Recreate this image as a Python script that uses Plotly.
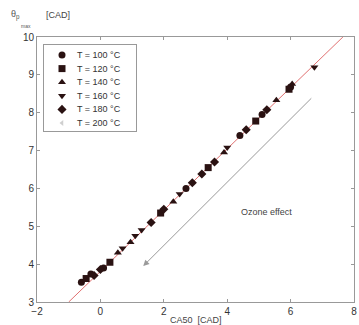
import plotly.graph_objects as go

# Data (CA50 [CAD], theta_pmax [CAD]) per inlet temperature
labels = ["T = 100 °C", "T = 120 °C", "T = 140 °C", "T = 160 °C", "T = 180 °C", "T = 200 °C"]
symbols = ["circle", "square", "triangle-up", "triangle-down", "diamond", "triangle-left"]

ca50_100 = [-0.6, -0.3, 0.1, 2.7, 4.4, 5.1, 6.0]
tmax_100 = [3.52, 3.74, 3.90, 6.00, 7.40, 7.95, 8.68]
ca50_120 = [-0.45, 0.3, 1.9, 3.4, 4.9, 5.95]
tmax_120 = [3.62, 4.05, 5.35, 6.55, 7.78, 8.62]
ca50_140 = [0.55, 0.95, 2.3, 3.9, 5.55, 6.05]
tmax_140 = [4.30, 4.58, 5.65, 6.95, 8.33, 8.76]
ca50_160 = [0.7, 1.1, 1.3, 2.5, 4.0, 6.75]
tmax_160 = [4.42, 4.75, 4.90, 5.85, 7.08, 9.20]
ca50_180 = [-0.2, 0.0, 1.6, 2.0, 2.9, 3.2, 3.6, 4.6, 5.25]
tmax_180 = [3.70, 3.86, 5.10, 5.45, 6.15, 6.38, 6.70, 7.55, 8.08]
ca50_200 = []
tmax_200 = []

xs = [ca50_100, ca50_120, ca50_140, ca50_160, ca50_180, ca50_200]
ys = [tmax_100, tmax_120, tmax_140, tmax_160, tmax_180, tmax_200]

# Fit line endpoints
fit_x = [-1.0, 7.65]
fit_y = [3.0, 10.0]

# Ozone effect arrow (tail -> head)
arrow_tail = (6.7, 8.42)
arrow_head = (1.35, 3.95)
ozone_text_pos = (5.25, 5.38)

W, H = 359, 325
L, R, T, B = 37, 5, 37, 23
pw, ph = W - L - R, H - T - B

def px(xp):
    return (xp - L) / pw

def py(yp):
    return (H - B - yp) / ph

DARK = "#2a1212"
LIGHT = "#cfcfcf"

fig = go.Figure()
fig.add_trace(go.Scatter(x=fit_x, y=fit_y, mode="lines",
                         line=dict(color="#e07070", width=1), showlegend=False,
                         hoverinfo="skip"))
for lab, sym, x, y in zip(labels, symbols, xs, ys):
    is_last = lab.endswith("200 °C")
    fig.add_trace(go.Scatter(
        x=x, y=y, mode="markers", name=lab, showlegend=False,
        marker=dict(symbol=sym, size=5 if is_last else 7,
                    color=LIGHT if is_last else DARK, line=dict(width=0))))

# Compact legend drawn on an overlay axis (rows = label index)
for i, (lab, sym) in enumerate(zip(labels, symbols)):
    is_last = lab.endswith("200 °C")
    fig.add_trace(go.Scatter(
        x=[18], y=[i], xaxis="x2", yaxis="y2", mode="markers", showlegend=False,
        hoverinfo="skip",
        marker=dict(symbol=sym, size=5 if is_last else 7,
                    color=LIGHT if is_last else DARK, line=dict(width=0))))
    fig.add_annotation(x=31, y=i, xref="x2", yref="y2", text=lab, showarrow=False,
                       xanchor="left", yanchor="middle",
                       font=dict(size=9, color="#333", family="Liberation Sans"))

fig.add_annotation(x=arrow_head[0], y=arrow_head[1], ax=arrow_tail[0], ay=arrow_tail[1],
                   xref="x", yref="y", axref="x", ayref="y", text="",
                   showarrow=True, arrowhead=2, arrowsize=1.2, arrowwidth=1,
                   arrowcolor="#9a9a9a")
fig.add_annotation(x=ozone_text_pos[0], y=ozone_text_pos[1], xref="x", yref="y",
                   text="Ozone effect", showarrow=False,
                   font=dict(size=9, color="#444", family="Liberation Sans"))

# axis labels (pixel positions converted to paper)
def label(xp, yp, text, size, color="#444"):
    fig.add_annotation(x=px(xp), y=py(yp), xref="paper", yref="paper", text=text,
                       showarrow=False, xanchor="center", yanchor="middle",
                       font=dict(size=size, color=color, family="Liberation Sans"))

label(15, 15, "θ<sub>p</sub>", 9, "#555")
label(26, 26, "max", 5, "#555")
label(58, 15, "[CAD]", 9)
label(196, 320, "CA50  [CAD]", 9)

axis_common = dict(showgrid=False, zeroline=False, ticks="inside", ticklen=3,
                   tickcolor="#999", showline=True, linecolor="#999", linewidth=1,
                   mirror="ticks", automargin=False,
                   tickfont=dict(size=10, color="#333", family="Liberation Sans"))
fig.update_xaxes(range=[-2, 8], dtick=2, tick0=-2, **axis_common)
fig.update_yaxes(range=[3, 10], dtick=1, tick0=3, **axis_common)

# legend box geometry (pixels): x 44..136, y 45..131, first row at 55, row step 13.6
lx0, lx1, ly0, ly1 = 44, 136, 45, 131
row0, step = 55, 13.6
fig.update_layout(
    xaxis2=dict(domain=[px(lx0), px(lx1)], range=[0, lx1 - lx0], anchor="y2",
                showgrid=False, zeroline=False, showticklabels=False, ticks="",
                showline=True, mirror=True, linecolor="#999", linewidth=1,
                fixedrange=True),
    yaxis2=dict(domain=[py(ly1), py(ly0)],
                range=[(ly1 - row0) / step, (ly0 - row0) / step], anchor="x2",
                showgrid=False, zeroline=False, showticklabels=False, ticks="",
                showline=True, mirror=True, linecolor="#999", linewidth=1,
                fixedrange=True),
)

fig.update_layout(
    width=W, height=H, margin=dict(l=L, r=R, t=T, b=B),
    paper_bgcolor="white", plot_bgcolor="white",
    font=dict(family="Liberation Sans", color="#333"),
    showlegend=False,
)
fig.write_html("out.html", config={"displayModeBar": False},
               post_script="document.body.style.margin='0';")
